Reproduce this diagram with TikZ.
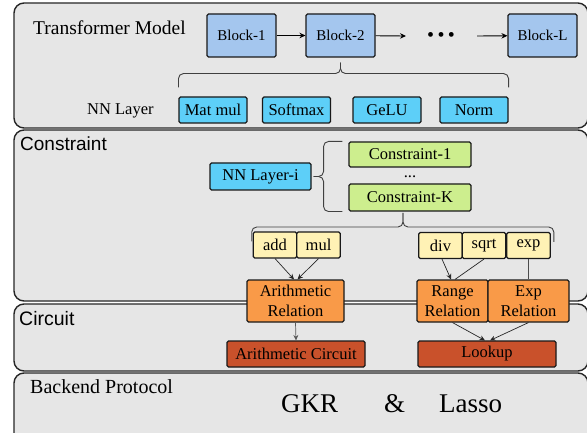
\documentclass[tikz,border=0pt]{standalone}
\usepackage{fontspec}
\setmainfont{Liberation Serif}
\setsansfont{Liberation Sans}
\usetikzlibrary{arrows.meta}
\definecolor{panelgray}{HTML}{E6E6E6}
\definecolor{blockblue}{HTML}{A4C6EE}
\definecolor{layercyan}{HTML}{5DCFF8}
\definecolor{consgreen}{HTML}{CDEE8E}
\definecolor{opyellow}{HTML}{FFF2B5}
\definecolor{relorange}{HTML}{F99A48}
\definecolor{circred}{HTML}{C9512B}
\tikzset{
  panel/.style={draw=black!85, line width=1.4pt, fill=panelgray, rounded corners=10pt},
  box/.style={draw=black!90, line width=1.1pt, rounded corners=1.5pt, inner sep=0pt,
    align=center, font=\fontsize{16.5}{20}\selectfont},
  block/.style={box, fill=blockblue, minimum width=69pt, minimum height=43pt,
    font=\fontsize{15}{18}\selectfont},
  nnbox/.style={box, fill=layercyan, minimum height=26pt},
  cons/.style={box, fill=consgreen, minimum width=122pt},
  op/.style={box, fill=opyellow, minimum width=43.5pt, minimum height=26pt},
  rel/.style={box, fill=relorange, minimum height=42pt},
  circ/.style={box, fill=circred, minimum width=138pt, minimum height=26pt},
  paneltitle/.style={anchor=base west, inner sep=0pt},
  bracepath/.style={draw=black!75, line width=0.9pt, rounded corners=5pt},
  flow/.style={draw=black, line width=0.9pt, -{Stealth[length=6pt,width=5.5pt]}},
  smallflow/.style={draw=black!85, line width=0.7pt, -{Stealth[length=5.5pt,width=5pt]}},
}
\begin{document}
\begin{tikzpicture}[x=1pt, y=-1pt]
    \useasboundingbox (0,0) rectangle (587,433);
    %layers
    \draw[panel] (14,3) rectangle (588,128);
    \draw[panel] (14,130) rectangle (588,301);
    \draw[panel] (14,304) rectangle (588,371);
    \draw[panel] (14,373) rectangle (588,445);
    \node[paneltitle, font=\fontsize{19.5}{22}\selectfont] (tmodel) at (33,35) {Transformer Model};
    \node[paneltitle, font=\sffamily\fontsize{19}{22}\selectfont] (constraint) at (20,151) {Constraint};
    \node[paneltitle, font=\sffamily\fontsize{19.5}{22}\selectfont] (circuit) at (19,325) {Circuit};
    \node[paneltitle, font=\fontsize{20}{22}\selectfont] (backend) at (30,393) {Backend Protocol};

    %blocks
    \foreach \name/\x/\txt in {block1/241.5/Block-1, block2/340.5/Block-2, blockL/542.5/Block-L}
      \node[block] (\name) at (\x,35.5) {\txt};
    \node[font=\fontsize{20}{22}\selectfont, inner sep=0pt] (dots) at (441,37) {•\hspace{3.5pt}•\hspace{3.5pt}•};
    \coordinate (gapL) at (406,36);
    \coordinate (gapR) at (477,36);
    \draw[flow] (block1) -- (block2);
    \draw[flow] (block2) -- (gapL);
    \draw[flow] (gapR) -- (blockL);

    %nn layers
    \node[paneltitle, font=\fontsize{16.5}{20}\selectfont] (nnlabel) at (87,115) {NN Layer};
    \foreach \name/\x/\txt in {matmul/213/Mat mul, softmax/296.5/Softmax, gelu/387/GeLU, norm/474/Norm}
      \node[nnbox, minimum width=68pt] (\name) at (\x,110) {\txt};
    \draw[bracepath] ([yshift=9pt]matmul.north west) |- ([yshift=-16pt]block2.south) -- ([yshift=-5pt]block2.south);
    \draw[bracepath] ([yshift=9pt]norm.north east) |- ([yshift=-16pt]block2.south) -- ([yshift=-5pt]block2.south);

    %constraints
    \node[nnbox, minimum width=101pt, minimum height=27pt] (layeri) at (260.5,176.5) {NN Layer-i};
    \node[cons, minimum height=25pt] (cons1) at (410,154.5) {Constraint-1};
    \node[font=\fontsize{16.5}{20}\selectfont, inner sep=0pt, anchor=base] (cdots) at (410,178) {...};
    \node[cons, minimum height=27pt] (consK) at (410,197.5) {Constraint-K};
    \draw[bracepath] ([xshift=-6pt]cons1.north west) -| ([xshift=12pt]layeri.east) -- ([xshift=2pt]layeri.east);
    \draw[bracepath] ([xshift=-6pt]consK.south west) -| ([xshift=12pt]layeri.east) -- ([xshift=2pt]layeri.east);

    %operations
    \foreach \name/\x/\y in {add/275/245, mul/318.5/245, div/440.5/245.5, sqrt/484/245.5, exp/528.5/245.5}
      \node[op] (\name) at (\x,\y) {\name};
    \coordinate (opstip) at (403,213);
    \draw[bracepath] ([shift={(-1pt,-10pt)}]add.north west) |- ([yshift=-14pt]opstip) -- (opstip);
    \draw[bracepath] ([shift={(3pt,-10pt)}]exp.north east) |- ([yshift=-14pt]opstip) -- (opstip);

    %relations
    \node[rel, minimum width=97pt] (arith) at (295.5,301) {Arithmetic\\Relation};
    \node[rel, minimum width=71pt] (range) at (452.5,301) {Range\\Relation};
    \node[rel, minimum width=81pt] (expr) at (528.5,301) {Exp\\Relation};
    \draw[smallflow] (add.south) -- ([xshift=-1.5pt]arith.north);
    \draw[smallflow] (mul.south) -- ([xshift=2pt]arith.north);
    \draw[smallflow] ([xshift=1.5pt]div.south) -- ([xshift=-1.5pt]range.north);
    \draw[draw=black!85, line width=0.7pt] (sqrt.south) -- ([xshift=2.5pt]range.north);
    \draw[draw=black!70, line width=0.7pt] (exp.south) -- (expr.north);

    %circuits
    \node[circ] (arithc) at (296,354) {Arithmetic Circuit};
    \node[circ] (lookup) at (487,354) {Lookup};
    \draw[smallflow, draw=black!65] (arith.south) -- (arithc.north);
    \draw[smallflow] (range.south) -- ([xshift=-2pt]lookup.north);
    \draw[smallflow] (expr.south) -- ([xshift=3pt]lookup.north);

    %backend
    \node[paneltitle, font=\fontsize{27}{30}\selectfont] (protocol) at (281,412) {GKR\hspace{46pt}\&\hspace{34pt}Lasso};
\end{tikzpicture}
\end{document}
